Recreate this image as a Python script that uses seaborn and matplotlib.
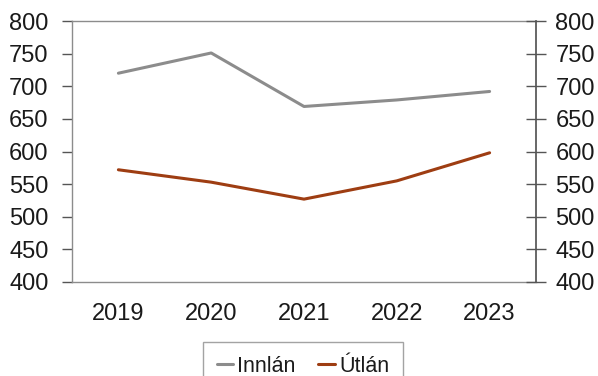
import matplotlib
matplotlib.use("Agg")
import matplotlib.pyplot as plt
import seaborn as sns
import pandas as pd
from matplotlib.ticker import FixedLocator
from matplotlib.lines import Line2D

years = ["2019", "2020", "2021", "2022", "2023"]
innlan = [720, 751, 669, 679, 692]
utlan = [572, 553, 527, 555, 598]
series_names = ["Innlán", "Útlán"]
colors = ["#8C8C8C", "#9E3D12"]
yticks = [400, 450, 500, 550, 600, 650, 700, 750, 800]

df = pd.DataFrame({
    "year": years * 2,
    "value": innlan + utlan,
    "series": [series_names[0]] * len(years) + [series_names[1]] * len(years),
})

sns.set_theme(style="white")
plt.rcParams["font.family"] = ["Liberation Sans", "DejaVu Sans"]

fig = plt.figure(figsize=(5.98, 3.76), dpi=100)
ax = fig.add_axes([72/598, 1-282/376, (536-72)/598, (282-21)/376])

sns.lineplot(data=df, x="year", y="value", hue="series", palette=colors,
             linewidth=2.2, ax=ax, legend=False, sort=False)

ax.set_xlim(-0.5, 4.5)
ax.set_ylim(400, 800)
ax.set_yticks(yticks)
ax.set_xlabel("")
ax.set_ylabel("")
ax.tick_params(axis="y", labelsize=17, direction="out", length=7, width=1,
               color="#555555", labelcolor="#1a1a1a", pad=10)
ax.tick_params(axis="x", which="major", length=0, labelsize=17, pad=15,
               labelcolor="#1a1a1a")
ax.xaxis.set_minor_locator(FixedLocator([-0.5, 0.5, 1.5, 2.5, 3.5, 4.5]))
ax.tick_params(axis="x", which="minor", direction="out", length=7, width=1,
               color="#555555")
for side in ["left", "top", "bottom"]:
    ax.spines[side].set_visible(True)
    ax.spines[side].set_color("#8C8C8C")
    ax.spines[side].set_linewidth(1)
ax.spines["right"].set_visible(False)

ax2 = ax.twinx()
ax2.set_ylim(400, 800)
ax2.set_yticks(yticks)
ax2.tick_params(axis="y", labelsize=17, direction="inout", length=14, width=1,
                color="#555555", labelcolor="#1a1a1a", pad=7)
for side in ["left", "top", "bottom"]:
    ax2.spines[side].set_visible(False)
ax2.spines["right"].set_visible(True)
ax2.spines["right"].set_color("#555555")
ax2.grid(False)

handles = [Line2D([0], [0], color=c, lw=2.2) for c in colors]
leg = fig.legend(handles, series_names, loc="center", bbox_to_anchor=(303/598, 1-366/376),
                 ncol=2, fontsize=15.5, frameon=True, fancybox=False, handlelength=0.75,
                 handletextpad=0.2, columnspacing=1.05, borderpad=0.65,
                 borderaxespad=0, labelcolor="#1a1a1a")
leg.get_frame().set_edgecolor("#8C8C8C")
leg.get_frame().set_linewidth(1)

fig.savefig("out.png", dpi=100)
